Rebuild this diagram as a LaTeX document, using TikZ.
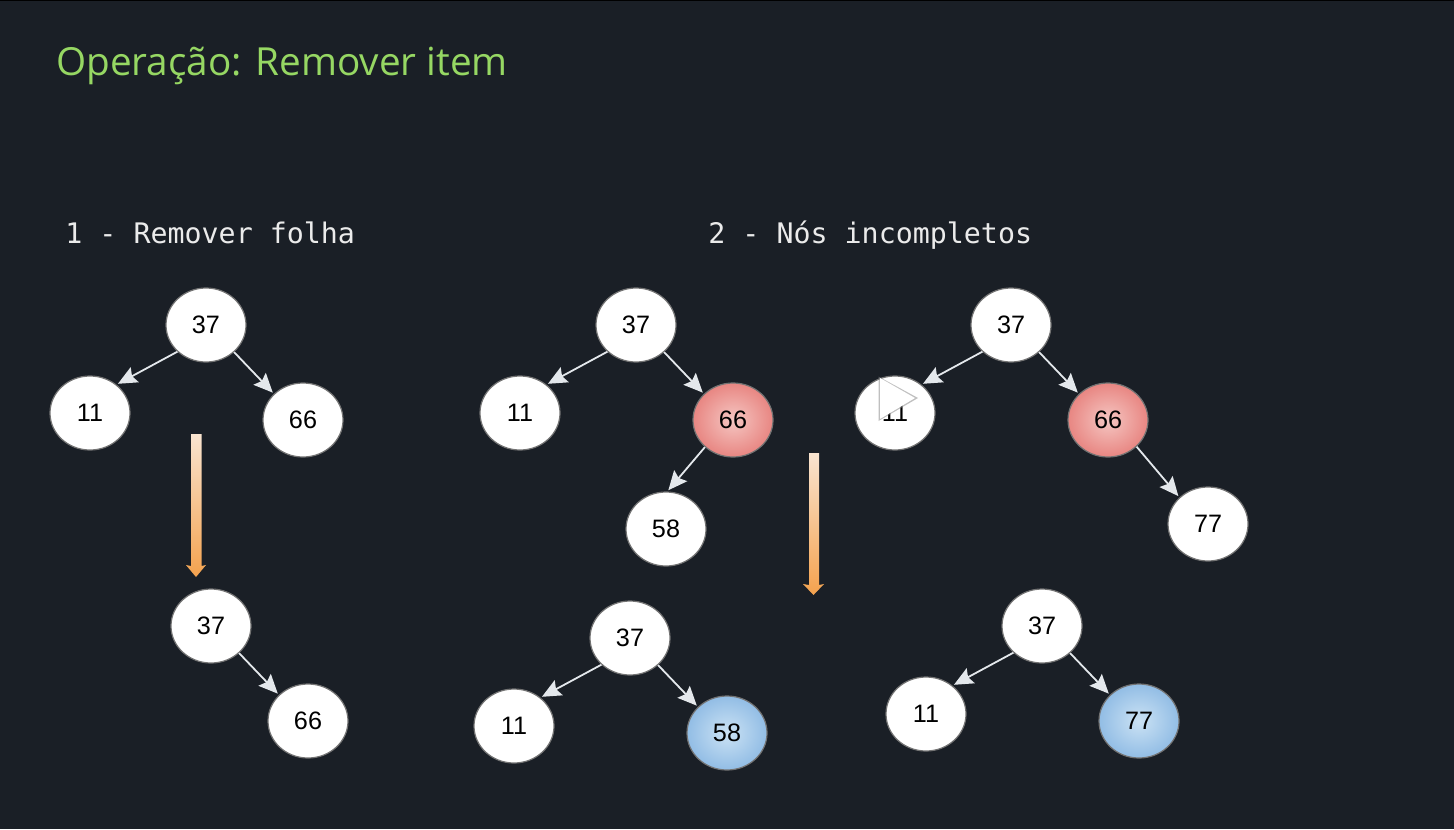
\documentclass[tikz,border=0pt]{standalone}
\usepackage{fontspec}
\setmainfont{Liberation Sans}
\newfontfamily\titlefont{Open Sans}
\newfontfamily\codefont{DejaVu Sans Mono}
\usetikzlibrary{shapes.geometric,arrows.meta,shadings}
\definecolor{bg}{HTML}{1A1F26}
\definecolor{titlegreen}{HTML}{96D763}
\definecolor{edgegray}{HTML}{E4E8EC}
\definecolor{redin}{HTML}{F5C6C2}
\definecolor{redout}{HTML}{E88682}
\definecolor{bluein}{HTML}{CBE2F4}
\definecolor{blueout}{HTML}{92BDE5}
\definecolor{arrowtop}{HTML}{F9E4D0}
\definecolor{arrowbottom}{HTML}{F4A24E}
\tikzset{
  x=0.5pt,y=-0.5pt,
  treenode/.style={ellipse,draw=black!55,line width=0.6pt,minimum width=40pt,minimum height=37pt,inner sep=0pt,font=\fontsize{12.6}{14}\selectfont,text=black},
  plainnode/.style={treenode,fill=white},
  rednode/.style={treenode,inner color=redin,outer color=redout},
  bluenode/.style={treenode,inner color=bluein,outer color=blueout},
  treeedge/.style={draw=edgegray,line width=0.9pt,shorten >=0.8pt,-{Stealth[length=9.5pt,width=8.5pt,inset=1.5pt]}},
  heading/.style={anchor=base west,text=white!92!black,font=\codefont\fontsize{14.15}{16}\selectfont,inner sep=0pt},
  titletext/.style={anchor=base west,text=titlegreen,font=\titlefont\fontsize{19.35}{24}\selectfont,inner sep=0pt},
  bigarrow/.style={top color=arrowtop,bottom color=arrowbottom,draw=none}
}
\begin{document}
\begin{tikzpicture}
\useasboundingbox (0,0) rectangle (1454,829);
\fill[bg] (0,0) rectangle (1454,829);
\fill[black] (0,0) rectangle (1454,1.5);

\node[titletext] (title) at (56,75.5) {Operação: Remover item};
\node[heading] (h1) at (65,243.5) {1 - Remover folha};
\node[heading] (h2) at (708,243.5) {2 - Nós incompletos};

% tree 1
\node[plainnode] (a37) at (206,325) {37};
\node[plainnode] (a11) at (90,413) {11};
\node[plainnode] (a66) at (303,420) {66};
\draw[treeedge] (a37.223) -- (a11.47);
\draw[treeedge] (a37.316) -- (a66.138);
\node[plainnode] (b37) at (211,626) {37};
\node[plainnode] (b66) at (308,721) {66};
\draw[treeedge] (b37.316) -- (b66.138);

% tree 2
\node[plainnode] (c37) at (636,325) {37};
\node[plainnode] (c11) at (520,413) {11};
\node[rednode] (c66) at (733,420) {66};
\node[plainnode] (c58) at (666,529) {58};
\draw[treeedge] (c37.223) -- (c11.47);
\draw[treeedge] (c37.316) -- (c66.138);
\draw[treeedge] (c66.224) -- (c58.88);
\node[plainnode] (d37) at (630,638) {37};
\node[plainnode] (d11) at (514,726) {11};
\node[bluenode] (d58) at (727,733) {58};
\draw[treeedge] (d37.223) -- (d11.47);
\draw[treeedge] (d37.316) -- (d58.138);

% tree 3
\node[plainnode] (e37) at (1011,325) {37};
\node[plainnode] (e11) at (895,413) {11};
\node[rednode] (e66) at (1108,420) {66};
\node[plainnode] (e77) at (1208,524) {77};
\draw[treeedge] (e37.223) -- (e11.47);
\draw[treeedge] (e37.316) -- (e66.138);
\draw[treeedge] (e66.317) -- (e77.137);
\node[plainnode] (f37) at (1042,626) {37};
\node[plainnode] (f11) at (926,714) {11};
\node[bluenode] (f77) at (1139,721) {77};
\draw[treeedge] (f37.223) -- (f11.47);
\draw[treeedge] (f37.316) -- (f77.138);

% big arrows
\shade[bigarrow] (191,434) -- (201.5,434) -- (201.5,566) -- (206,565) -- (196,577) -- (186,565) -- (191,566) -- cycle;
\shade[bigarrow] (809,453) -- (819,453) -- (819,585) -- (824,584) -- (813.5,595) -- (803,584) -- (809,585) -- cycle;

% play overlay
\fill[black!45,opacity=0.55] (878.5,376.5) -- (918,398) -- (878.5,421) -- cycle;
\fill[white] (880,378) -- (915,398) -- (880,419) -- cycle;
\end{tikzpicture}
\end{document}
